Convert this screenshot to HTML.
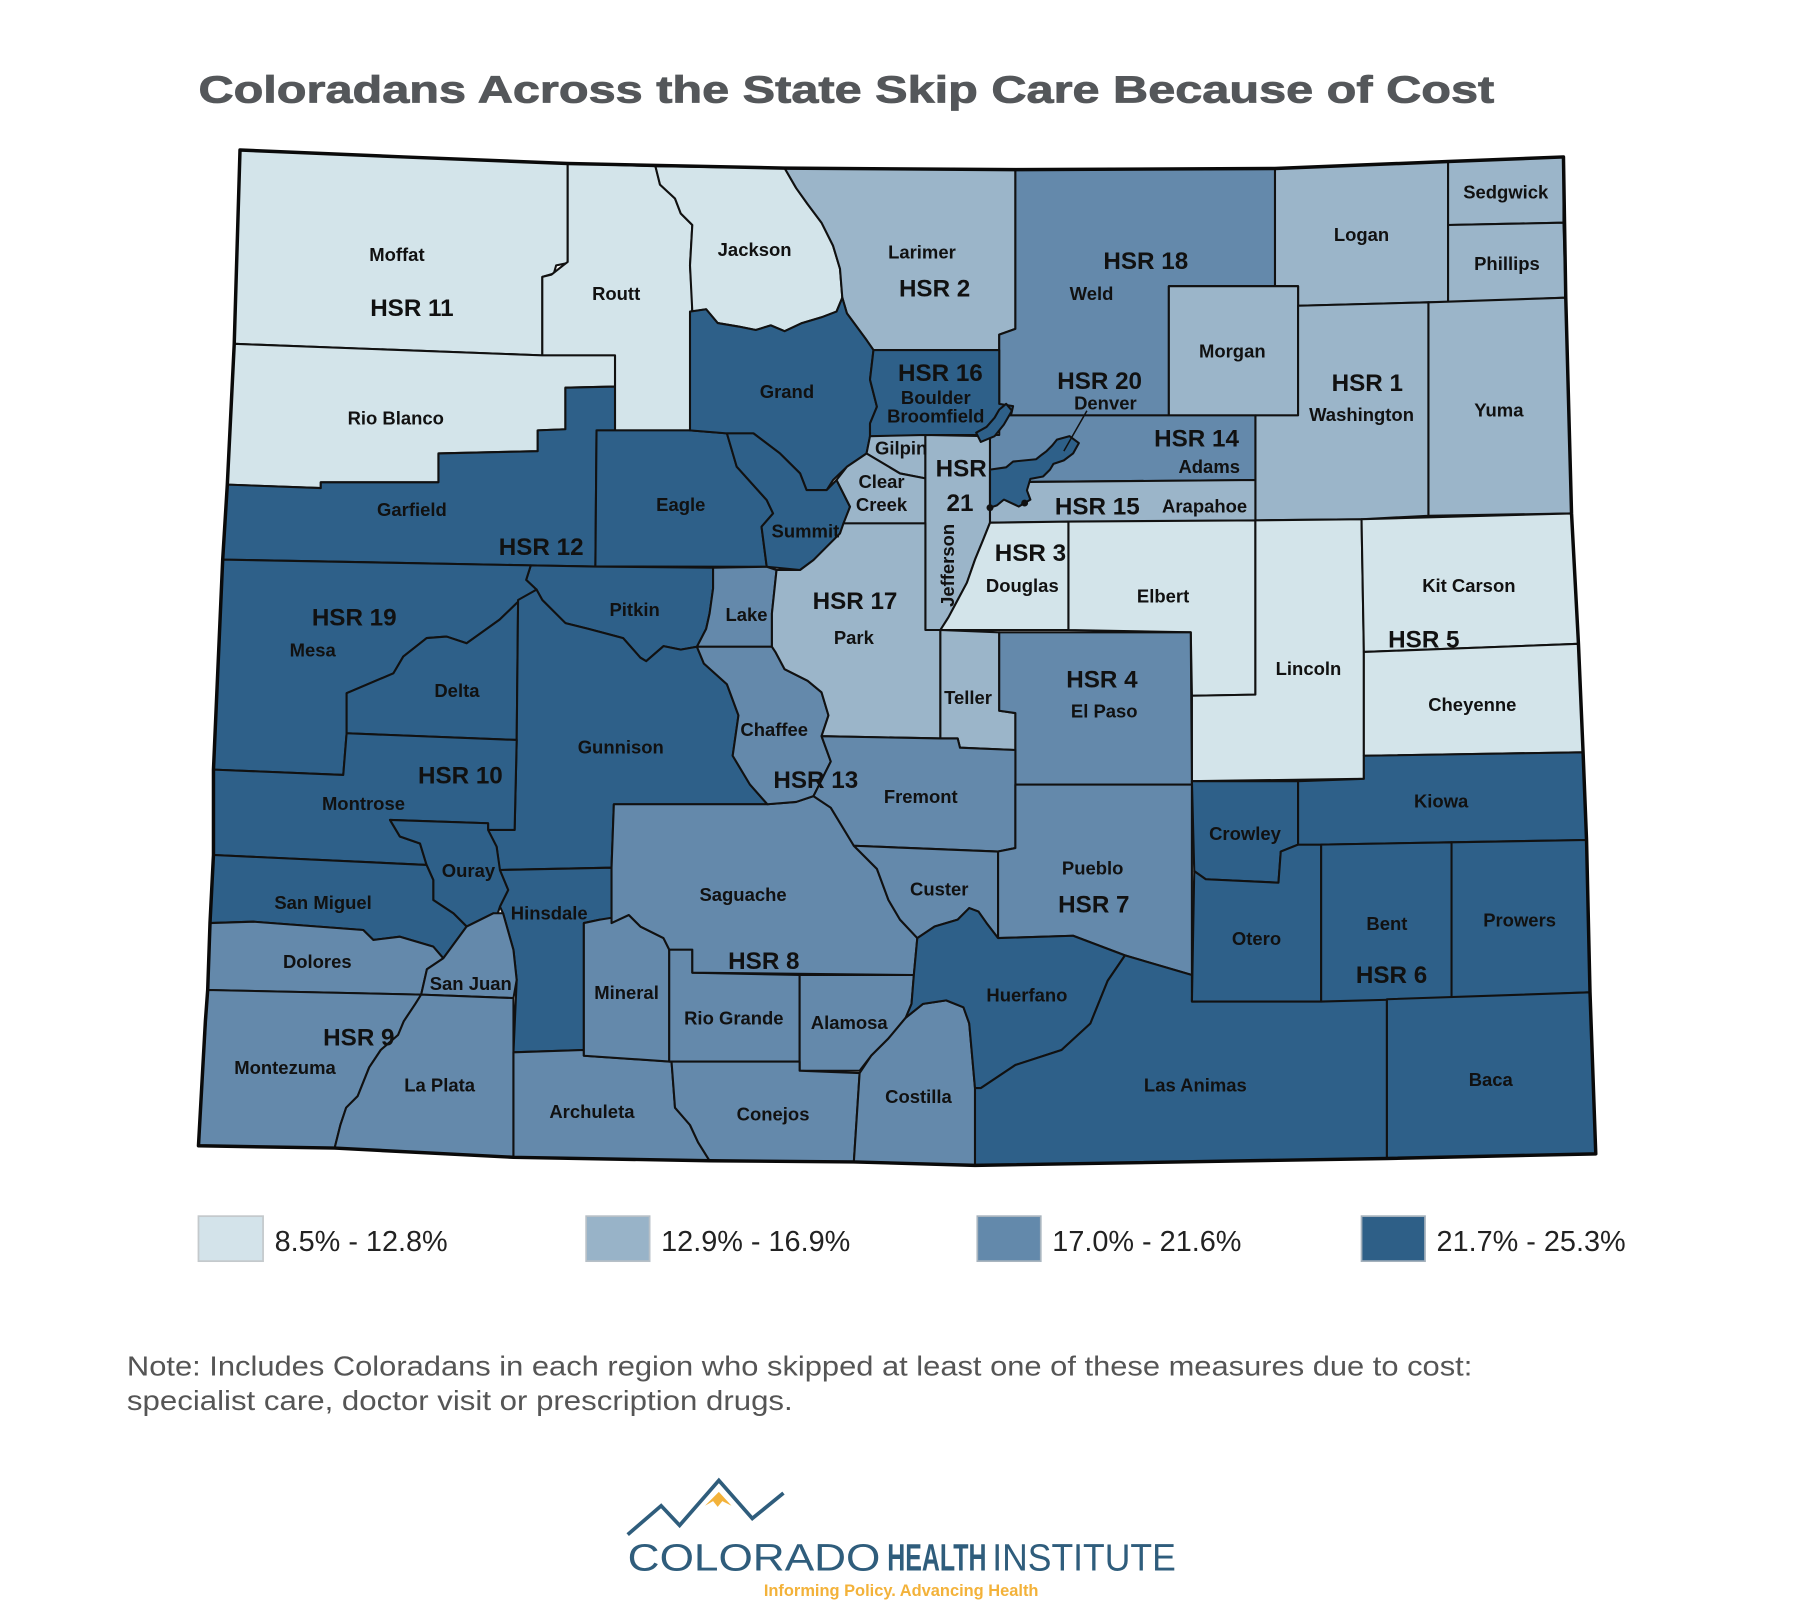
<!DOCTYPE html>
<html><head><meta charset="utf-8"><style>
html,body{margin:0;padding:0;background:#fff;}
svg{display:block;}
.c{font-family:"Liberation Sans",Arial,sans-serif;font-weight:bold;font-size:16px;fill:#111;text-anchor:middle;}
.h{font-family:"Liberation Sans",Arial,sans-serif;font-weight:bold;font-size:21px;fill:#111;text-anchor:middle;}
.L{fill:#d3e4ea}.M{fill:#9bb5c9}.T{fill:#6489ab}.D{fill:#2e6089}
.cn polygon{stroke:#111;stroke-width:1.8;stroke-linejoin:round;}
</style></head><body>
<svg width="1800" height="1623" viewBox="0 0 1560 1406.6" xmlns="http://www.w3.org/2000/svg">
<rect width="1560" height="1407" fill="#fff"/>
<text x="172" y="89" font-family="'Liberation Sans',Arial,sans-serif" font-weight="bold" font-size="33" fill="#54575a" stroke="#54575a" stroke-width="0.7" textLength="1123" lengthAdjust="spacingAndGlyphs">Coloradans Across the State Skip Care Because of Cost</text>

<g class="cn">
<!-- NW light -->
<polygon class="L" points="208,130 350,136 492,141.7 492,228 482,230 480,237 470,240 470,308 203,298"/>
<polygon class="L" points="492,141.7 568,144 572,160 585,172 590,185 600,195 598,230 600,262 598,373 533,373 533,308 470,308 470,240 478,238 488,230 492,227"/>
<polygon class="L" points="568,144 680,145.7 690,163 700,177 712,193 722,213 728,233 730,258 725,270 712,275 695,280 680,287 668,282 655,286 640,283 622,280 612,268 600,270 598,230 600,195 590,185 585,172 572,160"/>
<polygon class="L" points="203,298 470,308 533,308 533,335 490,336 490,372 466,373 466,391 380,393 380,418 278,418 278,423 197,420"/>
<!-- North -->
<polygon class="M" points="680,145.7 880,147 880,285 866,290 866,303.4 757,303.4 751,294.7 734,271.6 730,258 728,233 722,213 712,193 700,177 690,163"/>
<polygon class="T" points="880,147 1105,146 1105,248 1013,248 1013,360 866,360 866,290 880,285"/>
<polygon class="M" points="1105,146 1255,140 1255,262 1238,262 1125,265 1125,248 1105,248"/>
<polygon class="M" points="1255,140 1355,136 1355,193 1255,195"/>
<polygon class="M" points="1255,195 1355,193 1357,258 1255,262"/>
<polygon class="M" points="1013,248 1125,248 1125,360 1013,360"/>
<polygon class="M" points="1125,265 1238,262 1238,447 1180,450 1088,451 1088,360 1125,360"/>
<polygon class="M" points="1238,262 1357,258 1362,445 1238,447"/>
<!-- Central mountains dark -->
<polygon class="D" points="197,420 278,423 278,418 380,418 380,393 466,391 466,373 490,372 490,336 533,335 533,373 517,373 516,491 460,490 193,485"/>
<polygon class="D" points="517,373 598,373 630,375.6 638.5,404.5 664.5,433.4 670,445 660,456.5 664.5,491.2 516,491"/>
<polygon class="D" points="598,270 612,268 622,280 640,283 655,286 668,282 680,287 695,280 712,275 725,270 730,258 734,271.6 751,294.7 757,303.4 754,329 760,352.5 754,367 754,378.5 751,393 734,404.5 722,416 716.5,424.7 699,424.7 693.4,410.3 676,393 653,375.6 630,375.6 598,373"/>
<polygon class="D" points="630,375.6 653,375.6 676,393 693.4,410.3 699,424.7 716.5,424.7 725,416 736.7,439.2 728,462.3 705,485.4 693.4,494 664.5,491.2 660,456.5 670,445 664.5,433.4 638.5,404.5"/>
<polygon class="D" points="757,303.4 866,303.4 866,350 878,352 875,365 865,372 858,377 803,377 754,378.5 754,367 760,352.5 754,329"/>
<polygon class="M" points="754,378 802,377 802,414.6 780,410.3 751,393"/>
<polygon class="M" points="751,393 780,410.3 802,414.6 802,453.6 731,453.6 736.7,439.2 725,416 734,404.5"/>
<polygon class="M" points="802,377 858,378 858,453 852,468 845,485 838,505 830,520 822,535 815,546 802,546"/>
<polygon class="T" points="866,360 1088,360 1088,416 858,418 858,377 866,377"/>
<polygon class="M" points="858,418 1088,416 1088,451 858,453"/>
<polygon class="L" points="858,453 926,452 926,546 815,546 822,535 830,520 838,505 845,485 852,468"/>
<polygon class="L" points="926,452 1088,451 1088,602 1033,603 1032,548 926,546"/>
<polygon class="L" points="1088,451 1180,450 1182,562 1182,675 1033,677 1033,603 1088,602"/>
<polygon class="L" points="1180,450 1362,445 1368,558 1182,565"/>
<polygon class="L" points="1182,565 1368,558 1372,652 1182,655"/>
<!-- Denver / Broomfield -->
<polygon class="D" points="858,407 872,405 878,400 898,398 903,394 907,391 912,386 916,381 927,378 935,384 930,393 922,399 913,402 910,407 904,413 893,415 890,425 893,433 883,439 870,433 864,438 858,440"/>
<polygon class="D" points="846,375 855,370 862,362 866,355 872,350 877,356 870,368 862,378 850,383"/>
<!-- West -->
<polygon class="D" points="460,490 516,491 618,492 618,510 615,531.6 612,545 604,560.5 590,563 575,560 560,573 555,570 540,553 510,545 490,540 470,520 465,511 456,502.6"/>
<polygon class="D" points="193,485 460,490 456,502.6 465,511 450.6,520 433,537 404.4,557.5 387,551.7 369.8,553 349.5,569 341,583.5 300.4,600.8 300.4,635.5 297.5,671.6 185,667"/>
<polygon class="D" points="300.4,600.8 341,583.5 349.5,569 369.8,553 387,551.7 404.4,557.5 433,537 450.6,520 449,525 447.8,641.3 300.4,635.5"/>
<polygon class="D" points="449,520 465,511 470,520 490,540 510,545 540,553 555,570 560,573 575,560 590,563 604,560.5 610,575 630,593 640,620 635,655 650,680 665,697 532,697 530,752 433,754 430.4,733.8 423,719.3 446,719.3 447.8,641.3"/>
<polygon class="D" points="185,667 297.5,671.6 300.4,635.5 447.8,641.3 446,719.3 423,719.3 423,713.5 338,710.6 346.6,725 364,731 369.7,749.6 185,741"/>
<polygon class="D" points="338,710.6 423,713.5 423,719.3 430.4,733.8 433.3,754 440.5,771.3 433.3,785.8 430.4,794.4 427.5,791.5 404.4,803 393,791.6 375.5,780 375.5,762.6 369.7,749.6 364,731 346.6,725"/>
<polygon class="D" points="185,741 369.7,749.6 375.5,762.6 375.5,780 393,791.6 404.4,803 384.2,830.5 375.5,820.4 346.6,811.8 323.5,814.6 314.8,806 219.5,798.8 182,800"/>
<polygon class="D" points="433.3,754 530,752 530,800 520,797 506,800 506,910 445,912 447.8,849.3 445,823.3 436,791.5 433.3,785.8 440.5,771.3"/>
<polygon class="T" points="182,800 219.5,798.8 314.8,806 323.5,814.6 346.6,811.8 375.5,820.4 384.2,830.5 370,840 365,862 180,858"/>
<polygon class="T" points="384.2,830.5 404.4,803 427.5,791.5 436,791.5 445,823.3 447.8,849.3 445,865 365,862 370,840"/>
<polygon class="T" points="180,858 365,862 360,870 350,885 345,897 330,910 320,925 310,950 300,960 295,975 290,995 172,993"/>
<polygon class="T" points="365,862 445,865 445,1003 290,995 295,975 300,960 310,950 320,925 330,910 345,897 350,885 360,870"/>
<polygon class="T" points="445,912 506,910 506,915 582,920 585,960 598,975 605,990 615,1006 445,1003"/>
<polygon class="T" points="506,800 520,797 545,793 555,803 575,813 580,823 580,920 506,915"/>
<polygon class="T" points="580,823 600,823 600,843 693,845 693,920 580,920"/>
<polygon class="T" points="693,845 792,845 790,870 785,882 770,900 755,915 745,928 693,928"/>
<polygon class="T" points="580,920 693,920 693,928 745,930 740,1007 615,1006 605,990 598,975 585,960 582,920"/>
<polygon class="T" points="745,930 755,915 770,900 785,882 800,870 820,867 835,873 840,887 845,943 845,1010 740,1007"/>
<polygon class="T" points="532,697 665,697 690,695 705,690 720,700 740,733 760,753 770,780 780,797 795,813 792,845 600,843 600,823 580,823 575,813 555,803 545,793 530,800 530,752"/>
<polygon class="T" points="618,492 664.5,491.2 673,494 669,531.6 669,560.5 604,560.5 612,545 615,531.6 618,510"/>
<polygon class="T" points="604,560.5 669,560.5 672,565 680,580 700,590 712,600 718,620 712,638 720,660 705,690 690,695 665,697 650,680 635,655 640,620 630,593 610,575"/>
<polygon class="M" points="673,494 693.4,494 705,485.4 728,462.3 731,453.6 802,453.6 802,546 815,546 815,640 712,638 718,620 712,600 700,590 680,580 672,565 669,560.5 669,531.6"/>
<polygon class="M" points="815,546 866,548 866,616 880,618 880,650 832,648 830,640 815,640"/>
<polygon class="T" points="866,548 1032,548 1033,680 880,680 880,618 866,616"/>
<polygon class="T" points="712,638 815,640 830,640 832,648 880,650 880,735 865,738 740,733 720,700 705,690 720,660"/>
<polygon class="T" points="740,733 865,738 865,813 855,800 848,790 840,787 830,797 810,803 795,813 780,797 770,780 760,753"/>
<polygon class="T" points="880,680 1033,680 1033,845 975,828 930,811 865,813 865,738 880,735"/>
<polygon class="D" points="795,813 810,803 830,797 840,787 848,790 855,800 865,813 930,811 975,828 960,850 945,887 920,910 880,923 850,943 845,943 840,887 835,873 820,867 800,870 785,882 790,870 792,845"/>
<polygon class="D" points="975,828 1033,845 1033,868 1202,866 1202,1004 845,1010 845,943 850,943 880,923 920,910 945,887 960,850"/>
<!-- East dark -->
<polygon class="D" points="1033,677 1125,677 1125,732 1110,738 1108,765 1045,762 1035,755"/>
<polygon class="D" points="1035,755 1045,762 1108,765 1110,738 1125,732 1145,732 1145,868 1033,868"/>
<polygon class="D" points="1125,677 1182,675 1182,655 1372,652 1375,728 1258,730 1145,732 1125,732"/>
<polygon class="D" points="1145,732 1258,730 1258,865 1145,868"/>
<polygon class="D" points="1258,730 1375,728 1378,860 1258,865"/>
<polygon class="D" points="1202,866 1378,860 1383,1000 1202,1004"/>
</g>
<line x1="942" y1="356" x2="922" y2="391" stroke="#111" stroke-width="1.3"/>
<circle cx="858" cy="440" r="3" fill="#111"/><circle cx="888" cy="436" r="3" fill="#111"/>
<!-- state outline -->
<polygon fill="none" stroke="#0a0a0a" stroke-width="3" stroke-linejoin="round" points="208,130 350,136 492,141.7 680,145.7 880,147 1105,146 1255,140 1355,136 1357,258 1362,445 1368,558 1372,652 1375,728 1378,860 1383,1000 1202,1004 845,1010 740,1007 615,1006 445,1003 290,995 172,993 178,885 180,858 182,800 185,741 185,667 193,485 197,420 203,298"/>

<!-- labels -->
<g>
<text class="c" x="344" y="226">Moffat</text>
<text class="h" x="357" y="274">HSR 11</text>
<text class="c" x="534" y="260">Routt</text>
<text class="c" x="654" y="222">Jackson</text>
<text class="c" x="799" y="224">Larimer</text>
<text class="h" x="810" y="257">HSR 2</text>
<text class="h" x="993" y="233">HSR 18</text>
<text class="c" x="946" y="260">Weld</text>
<text class="c" x="1180" y="209">Logan</text>
<text class="c" x="1305" y="172">Sedgwick</text>
<text class="c" x="1306" y="234">Phillips</text>
<text class="c" x="1068" y="310">Morgan</text>
<text class="h" x="1185" y="339">HSR 1</text>
<text class="c" x="1180" y="365">Washington</text>
<text class="c" x="1299" y="361">Yuma</text>
<text class="c" x="682" y="345">Grand</text>
<text class="h" x="815" y="330">HSR 16</text>
<text class="c" x="811" y="350">Boulder</text>
<text class="c" x="811" y="366">Broomfield</text>
<text class="h" x="953" y="337">HSR 20</text>
<text class="c" x="958" y="355">Denver</text>
<text class="c" x="343" y="368">Rio Blanco</text>
<text class="h" x="1037" y="387">HSR 14</text>
<text class="c" x="1048" y="410">Adams</text>
<text class="c" x="781" y="394">Gilpin</text>
<text class="h" x="833" y="413">HSR</text>
<text class="h" x="832" y="443">21</text>
<text class="c" x="764" y="423">Clear</text>
<text class="c" x="764" y="443">Creek</text>
<text class="h" x="951" y="446">HSR 15</text>
<text class="c" x="1044" y="444">Arapahoe</text>
<text class="c" x="357" y="447">Garfield</text>
<text class="c" x="590" y="443">Eagle</text>
<text class="c" x="698" y="466">Summit</text>
<text class="h" x="469" y="481">HSR 12</text>
<text class="c" transform="translate(827,490) rotate(-90)" x="0" y="0">Jefferson</text>
<text class="h" x="893" y="486">HSR 3</text>
<text class="c" x="886" y="513">Douglas</text>
<text class="c" x="1008" y="522">Elbert</text>
<text class="c" x="1273" y="513">Kit Carson</text>
<text class="h" x="307" y="542">HSR 19</text>
<text class="c" x="271" y="569">Mesa</text>
<text class="c" x="550" y="534">Pitkin</text>
<text class="c" x="647" y="538">Lake</text>
<text class="h" x="741" y="528">HSR 17</text>
<text class="c" x="740" y="558">Park</text>
<text class="h" x="1234" y="561">HSR 5</text>
<text class="c" x="1134" y="585">Lincoln</text>
<text class="c" x="396" y="604">Delta</text>
<text class="h" x="955" y="596">HSR 4</text>
<text class="c" x="957" y="622">El Paso</text>
<text class="c" x="839" y="610">Teller</text>
<text class="c" x="1276" y="616">Cheyenne</text>
<text class="c" x="671" y="638">Chaffee</text>
<text class="c" x="538" y="653">Gunnison</text>
<text class="h" x="399" y="679">HSR 10</text>
<text class="h" x="707" y="683">HSR 13</text>
<text class="c" x="798" y="696">Fremont</text>
<text class="c" x="1249" y="700">Kiowa</text>
<text class="c" x="315" y="702">Montrose</text>
<text class="c" x="1079" y="728">Crowley</text>
<text class="c" x="406" y="760">Ouray</text>
<text class="c" x="947" y="758">Pueblo</text>
<text class="c" x="814" y="776">Custer</text>
<text class="c" x="644" y="781">Saguache</text>
<text class="c" x="280" y="788">San Miguel</text>
<text class="h" x="948" y="791">HSR 7</text>
<text class="c" x="476" y="797">Hinsdale</text>
<text class="c" x="1202" y="806">Bent</text>
<text class="c" x="1317" y="803">Prowers</text>
<text class="c" x="1089" y="819">Otero</text>
<text class="c" x="275" y="839">Dolores</text>
<text class="h" x="662" y="840">HSR 8</text>
<text class="c" x="408" y="858">San Juan</text>
<text class="h" x="1206" y="852">HSR 6</text>
<text class="c" x="543" y="866">Mineral</text>
<text class="c" x="890" y="868">Huerfano</text>
<text class="c" x="636" y="888">Rio Grande</text>
<text class="c" x="736" y="892">Alamosa</text>
<text class="h" x="311" y="906">HSR 9</text>
<text class="c" x="247" y="931">Montezuma</text>
<text class="c" x="381" y="946">La Plata</text>
<text class="c" x="1036" y="946">Las Animas</text>
<text class="c" x="1292" y="941">Baca</text>
<text class="c" x="796" y="956">Costilla</text>
<text class="c" x="513" y="969">Archuleta</text>
<text class="c" x="670" y="971">Conejos</text>
</g>

<!-- legend -->
<g font-family="'Liberation Sans',Arial,sans-serif" font-size="25" fill="#222">
<rect x="172" y="1054" width="56" height="39" fill="#d3e3ea" stroke="#c4c9cc" stroke-width="1.5"/>
<text x="238" y="1084">8.5% - 12.8%</text>
<rect x="508" y="1054" width="55" height="39" fill="#98b3c8" stroke="#b7c0c7" stroke-width="1.5"/>
<text x="573" y="1084">12.9% - 16.9%</text>
<rect x="847" y="1054" width="55" height="39" fill="#6389ab" stroke="#a9b5bf" stroke-width="1.5"/>
<text x="912" y="1084">17.0% - 21.6%</text>
<rect x="1180" y="1054" width="55" height="39" fill="#2e5f87" stroke="#a4b1bc" stroke-width="1.5"/>
<text x="1245" y="1084">21.7% - 25.3%</text>
</g>

<!-- note -->
<g font-family="'Liberation Sans',Arial,sans-serif" font-size="24" fill="#555">
<text x="110" y="1192" textLength="1166" lengthAdjust="spacingAndGlyphs">Note: Includes Coloradans in each region who skipped at least one of these measures due to cost:</text>
<text x="110" y="1222" textLength="577" lengthAdjust="spacingAndGlyphs">specialist care, doctor visit or prescription drugs.</text>
</g>

<!-- logo -->
<polyline points="544,1330 573,1305 589,1322 623,1283 652,1316 679,1294" fill="none" stroke="#2f5d7c" stroke-width="3.2" stroke-linejoin="miter"/>
<polygon points="611,1305 623,1293 634,1305 626,1301 622,1306 618,1301" fill="#f3b23a"/>
<g font-family="'Liberation Sans',Arial,sans-serif" font-size="33" fill="#2f5d7c">
<text x="544" y="1361" textLength="219" lengthAdjust="spacingAndGlyphs">COLORADO</text>
<text x="769" y="1361" font-weight="bold" textLength="86" lengthAdjust="spacingAndGlyphs">HEALTH</text>
<text x="860" y="1361" textLength="159" lengthAdjust="spacingAndGlyphs">INSTITUTE</text>
</g>
<text x="662" y="1383" font-family="'Liberation Sans',Arial,sans-serif" font-size="14" font-weight="bold" fill="#f3b23a" textLength="238" lengthAdjust="spacingAndGlyphs">Informing Policy. Advancing Health</text>
</svg>
</body></html>
